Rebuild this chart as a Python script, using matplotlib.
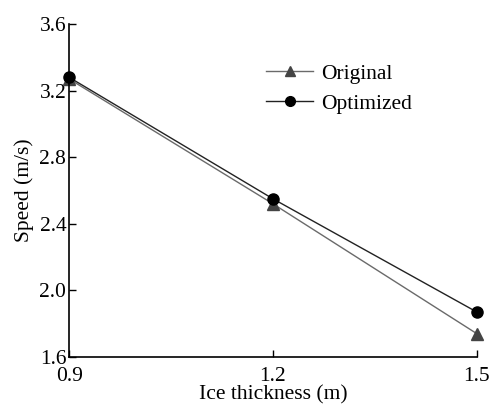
import matplotlib
matplotlib.use("Agg")
import matplotlib.pyplot as plt

# data
thickness = [0.9, 1.2, 1.5]
speed_original = [3.27, 2.52, 1.74]
speed_optimized = [3.28, 2.55, 1.87]

x_ticks = [0.9, 1.2, 1.5]
y_ticks = [1.6, 2.0, 2.4, 2.8, 3.2, 3.6]

plt.rcParams["font.family"] = ["Liberation Serif", "DejaVu Serif"]

fig = plt.figure(figsize=(4.9, 4.07), dpi=100)
ax = fig.add_axes([0.141, 0.123, 0.832, 0.818])

ax.plot(thickness, speed_original, color="#6a6a6a", lw=1.0, marker="^",
        ms=8, mfc="#444444", mec="#444444", label="Original", clip_on=False)
ax.plot(thickness, speed_optimized, color="#222222", lw=1.0, marker="o",
        ms=8, mfc="black", mec="black", label="Optimized", clip_on=False)

ax.set_xlim(0.9, 1.5)
ax.set_ylim(1.6, 3.6)
ax.set_xticks(x_ticks)
ax.set_yticks(y_ticks)
ax.set_xticklabels([f"{v:.1f}" for v in x_ticks])
ax.set_yticklabels([f"{v:.1f}" for v in y_ticks])
ax.tick_params(direction="in", length=5, width=1, labelsize=15.5)
ax.tick_params(axis="x", pad=7)
ax.tick_params(axis="y", pad=2)

for s in ["top", "right"]:
    ax.spines[s].set_visible(False)
for s in ["left", "bottom"]:
    ax.spines[s].set_linewidth(1.2)

ax.set_xlabel("Ice thickness (m)", fontsize=15.5, labelpad=0)
ax.set_ylabel("Speed (m/s)", fontsize=15.5, labelpad=4)

leg = ax.legend(loc="upper left", bbox_to_anchor=(0.483, 0.88), frameon=False,
                fontsize=15.5, handlelength=2.2, handletextpad=0.35,
                labelspacing=0.45, borderaxespad=0, borderpad=0)
for h in leg.legend_handles:
    h.set_markersize(7)

fig.savefig("out.png", dpi=100, facecolor="white")
